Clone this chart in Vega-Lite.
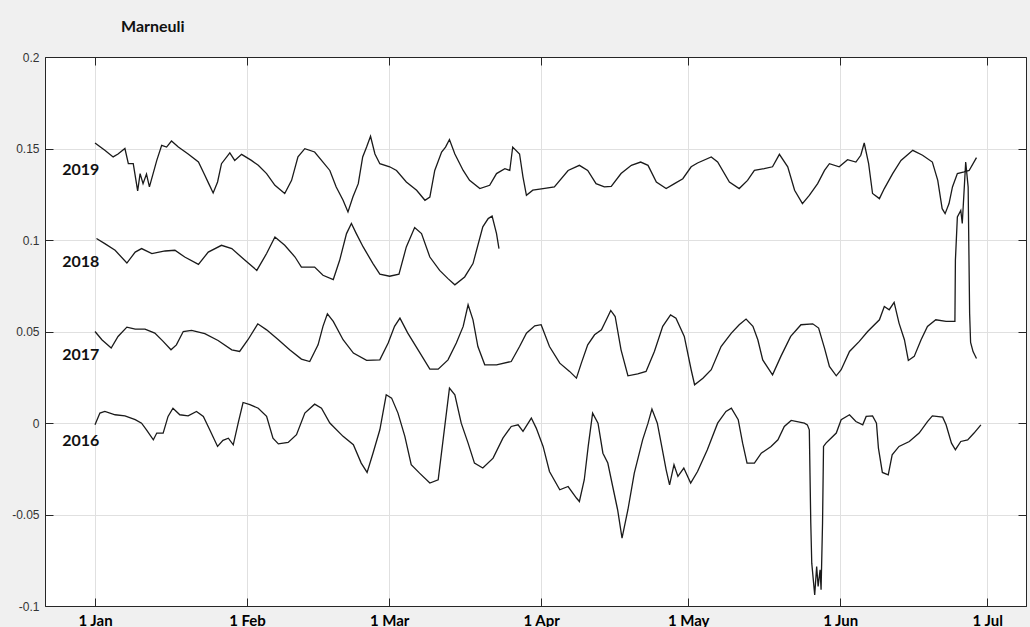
{
  "$schema": "https://vega.github.io/schema/vega-lite/v6.json",
  "width": 981,
  "height": 549,
  "autosize": {"type": "none"},
  "padding": {"left": 45, "top": 57, "right": 4, "bottom": 21},
  "background": "#f0f0f0",
  "title": {
    "text": "Marneuli",
    "anchor": "start",
    "frame": "group",
    "dx": 76,
    "offset": 3,
    "baseline": "alphabetic",
    "font": "Lato",
    "fontSize": 16,
    "fontWeight": "bold",
    "color": "#111111"
  },
  "config": {
    "view": {"fill": "white", "stroke": "#262626", "strokeWidth": 1},
    "axis": {
      "domainColor": "#262626",
      "tickColor": "#262626",
      "gridColor": "#e0e0e0",
      "tickSize": -8,
      "title": null,
      "labelFlush": false,
      "labelOverlap": false
    }
  },
  "datasets": {
    "series": [
      {"year": "2019", "day": 0, "value": 0.153}, {"year": "2019", "day": 2.0, "value": 0.149}, {"year": "2019", "day": 3.7, "value": 0.1454},
      {"year": "2019", "day": 4.7, "value": 0.147}, {"year": "2019", "day": 6.1, "value": 0.150}, {"year": "2019", "day": 6.8, "value": 0.1417},
      {"year": "2019", "day": 7.8, "value": 0.1417}, {"year": "2019", "day": 8.7, "value": 0.1268}, {"year": "2019", "day": 9.2, "value": 0.1363},
      {"year": "2019", "day": 9.8, "value": 0.1308}, {"year": "2019", "day": 10.5, "value": 0.136}, {"year": "2019", "day": 11.1, "value": 0.129},
      {"year": "2019", "day": 12.6, "value": 0.1435}, {"year": "2019", "day": 13.6, "value": 0.1517}, {"year": "2019", "day": 14.6, "value": 0.1508},
      {"year": "2019", "day": 15.6, "value": 0.1541}, {"year": "2019", "day": 17.0, "value": 0.1508}, {"year": "2019", "day": 19.0, "value": 0.147},
      {"year": "2019", "day": 21.1, "value": 0.1426}, {"year": "2019", "day": 22.4, "value": 0.1354}, {"year": "2019", "day": 23.2, "value": 0.1308},
      {"year": "2019", "day": 24.1, "value": 0.1257}, {"year": "2019", "day": 25.0, "value": 0.1317}, {"year": "2019", "day": 25.8, "value": 0.1417},
      {"year": "2019", "day": 27.5, "value": 0.1476}, {"year": "2019", "day": 28.5, "value": 0.1435}, {"year": "2019", "day": 29.9, "value": 0.1468},
      {"year": "2019", "day": 31.9, "value": 0.1435}, {"year": "2019", "day": 33.3, "value": 0.1408}, {"year": "2019", "day": 35.0, "value": 0.1363},
      {"year": "2019", "day": 36.7, "value": 0.1299}, {"year": "2019", "day": 38.7, "value": 0.1254}, {"year": "2019", "day": 40.1, "value": 0.1326},
      {"year": "2019", "day": 41.4, "value": 0.1454}, {"year": "2019", "day": 42.8, "value": 0.1499}, {"year": "2019", "day": 44.8, "value": 0.1481},
      {"year": "2019", "day": 46.5, "value": 0.1426}, {"year": "2019", "day": 47.9, "value": 0.138}, {"year": "2019", "day": 49.2, "value": 0.129},
      {"year": "2019", "day": 50.6, "value": 0.1217}, {"year": "2019", "day": 51.6, "value": 0.1153}, {"year": "2019", "day": 52.6, "value": 0.1235},
      {"year": "2019", "day": 53.7, "value": 0.1308}, {"year": "2019", "day": 54.6, "value": 0.1454}, {"year": "2019", "day": 55.4, "value": 0.1508},
      {"year": "2019", "day": 56.2, "value": 0.1567}, {"year": "2019", "day": 57.1, "value": 0.147}, {"year": "2019", "day": 58.1, "value": 0.1417},
      {"year": "2019", "day": 60.1, "value": 0.140}, {"year": "2019", "day": 61.5, "value": 0.138}, {"year": "2019", "day": 63.5, "value": 0.1317},
      {"year": "2019", "day": 65.6, "value": 0.1272}, {"year": "2019", "day": 67.3, "value": 0.1217}, {"year": "2019", "day": 68.3, "value": 0.1235},
      {"year": "2019", "day": 69.3, "value": 0.138}, {"year": "2019", "day": 70.7, "value": 0.1481}, {"year": "2019", "day": 71.5, "value": 0.1508},
      {"year": "2019", "day": 72.3, "value": 0.1549}, {"year": "2019", "day": 73.4, "value": 0.147}, {"year": "2019", "day": 75.1, "value": 0.138},
      {"year": "2019", "day": 76.4, "value": 0.1326}, {"year": "2019", "day": 78.5, "value": 0.1281}, {"year": "2019", "day": 80.5, "value": 0.1299},
      {"year": "2019", "day": 81.9, "value": 0.1363}, {"year": "2019", "day": 83.6, "value": 0.139}, {"year": "2019", "day": 84.6, "value": 0.138},
      {"year": "2019", "day": 85.2, "value": 0.1508}, {"year": "2019", "day": 86.6, "value": 0.147}, {"year": "2019", "day": 87.3, "value": 0.1344},
      {"year": "2019", "day": 88.0, "value": 0.1244}, {"year": "2019", "day": 89.3, "value": 0.1272}, {"year": "2019", "day": 91.4, "value": 0.1281},
      {"year": "2019", "day": 93.7, "value": 0.129}, {"year": "2019", "day": 96.5, "value": 0.138}, {"year": "2019", "day": 98.8, "value": 0.1408},
      {"year": "2019", "day": 100.5, "value": 0.138}, {"year": "2019", "day": 102.2, "value": 0.1308}, {"year": "2019", "day": 103.9, "value": 0.129},
      {"year": "2019", "day": 105.3, "value": 0.1293}, {"year": "2019", "day": 107.3, "value": 0.1363}, {"year": "2019", "day": 109.4, "value": 0.1408},
      {"year": "2019", "day": 111.3, "value": 0.1426}, {"year": "2019", "day": 112.8, "value": 0.1408}, {"year": "2019", "day": 114.5, "value": 0.1317},
      {"year": "2019", "day": 116.5, "value": 0.1281}, {"year": "2019", "day": 118.2, "value": 0.1308}, {"year": "2019", "day": 119.9, "value": 0.1335},
      {"year": "2019", "day": 121.6, "value": 0.140}, {"year": "2019", "day": 122.9, "value": 0.1421}, {"year": "2019", "day": 125.7, "value": 0.1454},
      {"year": "2019", "day": 127.0, "value": 0.1426}, {"year": "2019", "day": 129.4, "value": 0.1317}, {"year": "2019", "day": 131.4, "value": 0.1281},
      {"year": "2019", "day": 133.1, "value": 0.1326}, {"year": "2019", "day": 134.5, "value": 0.138}, {"year": "2019", "day": 136.5, "value": 0.139},
      {"year": "2019", "day": 138.2, "value": 0.140}, {"year": "2019", "day": 139.6, "value": 0.1468}, {"year": "2019", "day": 141.3, "value": 0.140},
      {"year": "2019", "day": 142.7, "value": 0.1272}, {"year": "2019", "day": 144.3, "value": 0.1199}, {"year": "2019", "day": 145.7, "value": 0.1244},
      {"year": "2019", "day": 147.4, "value": 0.1308}, {"year": "2019", "day": 148.8, "value": 0.138}, {"year": "2019", "day": 149.8, "value": 0.1417},
      {"year": "2019", "day": 151.8, "value": 0.140}, {"year": "2019", "day": 153.5, "value": 0.1439}, {"year": "2019", "day": 155.2, "value": 0.1426},
      {"year": "2019", "day": 156.2, "value": 0.1463}, {"year": "2019", "day": 156.9, "value": 0.153}, {"year": "2019", "day": 157.8, "value": 0.1417},
      {"year": "2019", "day": 158.6, "value": 0.1254}, {"year": "2019", "day": 160.0, "value": 0.1226}, {"year": "2019", "day": 161.0, "value": 0.1281},
      {"year": "2019", "day": 162.7, "value": 0.1363}, {"year": "2019", "day": 164.4, "value": 0.1435}, {"year": "2019", "day": 166.8, "value": 0.149},
      {"year": "2019", "day": 168.8, "value": 0.1463}, {"year": "2019", "day": 170.8, "value": 0.1426}, {"year": "2019", "day": 171.9, "value": 0.1326},
      {"year": "2019", "day": 172.8, "value": 0.1171}, {"year": "2019", "day": 173.4, "value": 0.1144}, {"year": "2019", "day": 174.2, "value": 0.1199},
      {"year": "2019", "day": 174.9, "value": 0.129}, {"year": "2019", "day": 175.9, "value": 0.1363}, {"year": "2019", "day": 177.3, "value": 0.1372},
      {"year": "2019", "day": 178.3, "value": 0.138}, {"year": "2019", "day": 179.8, "value": 0.145},

      {"year": "2018", "day": 0.3, "value": 0.1008}, {"year": "2018", "day": 2.0, "value": 0.098}, {"year": "2018", "day": 4.1, "value": 0.0944},
      {"year": "2018", "day": 6.5, "value": 0.0874}, {"year": "2018", "day": 8.2, "value": 0.0934}, {"year": "2018", "day": 9.5, "value": 0.0953},
      {"year": "2018", "day": 11.6, "value": 0.0926}, {"year": "2018", "day": 14.3, "value": 0.094}, {"year": "2018", "day": 16.3, "value": 0.0944},
      {"year": "2018", "day": 18.3, "value": 0.0907}, {"year": "2018", "day": 21.1, "value": 0.0867}, {"year": "2018", "day": 23.1, "value": 0.0934},
      {"year": "2018", "day": 25.8, "value": 0.0971}, {"year": "2018", "day": 27.9, "value": 0.0953}, {"year": "2018", "day": 30.6, "value": 0.0889},
      {"year": "2018", "day": 33.0, "value": 0.0834}, {"year": "2018", "day": 35.0, "value": 0.0926}, {"year": "2018", "day": 36.7, "value": 0.1016},
      {"year": "2018", "day": 38.7, "value": 0.0971}, {"year": "2018", "day": 40.8, "value": 0.0907}, {"year": "2018", "day": 42.1, "value": 0.0852},
      {"year": "2018", "day": 44.8, "value": 0.0852}, {"year": "2018", "day": 46.5, "value": 0.0807}, {"year": "2018", "day": 48.6, "value": 0.0784},
      {"year": "2018", "day": 49.9, "value": 0.0889}, {"year": "2018", "day": 51.3, "value": 0.1035}, {"year": "2018", "day": 52.3, "value": 0.109},
      {"year": "2018", "day": 53.3, "value": 0.1035}, {"year": "2018", "day": 54.7, "value": 0.0962}, {"year": "2018", "day": 56.7, "value": 0.0871},
      {"year": "2018", "day": 58.1, "value": 0.0813}, {"year": "2018", "day": 60.1, "value": 0.0802}, {"year": "2018", "day": 62.0, "value": 0.0813},
      {"year": "2018", "day": 63.5, "value": 0.0962}, {"year": "2018", "day": 65.2, "value": 0.1068}, {"year": "2018", "day": 66.6, "value": 0.1035},
      {"year": "2018", "day": 68.3, "value": 0.0907}, {"year": "2018", "day": 70.3, "value": 0.0834}, {"year": "2018", "day": 72.0, "value": 0.0789},
      {"year": "2018", "day": 73.4, "value": 0.0755}, {"year": "2018", "day": 75.4, "value": 0.0798}, {"year": "2018", "day": 77.1, "value": 0.0871},
      {"year": "2018", "day": 79.1, "value": 0.1072}, {"year": "2018", "day": 80.2, "value": 0.1117}, {"year": "2018", "day": 81.0, "value": 0.1131},
      {"year": "2018", "day": 81.9, "value": 0.1035}, {"year": "2018", "day": 82.4, "value": 0.0953},

      {"year": "2017", "day": 0, "value": 0.05}, {"year": "2017", "day": 1.4, "value": 0.0455}, {"year": "2017", "day": 3.3, "value": 0.041},
      {"year": "2017", "day": 4.7, "value": 0.0473}, {"year": "2017", "day": 6.5, "value": 0.0524}, {"year": "2017", "day": 8.2, "value": 0.0513},
      {"year": "2017", "day": 10.2, "value": 0.0513}, {"year": "2017", "day": 12.2, "value": 0.0491}, {"year": "2017", "day": 13.9, "value": 0.0446},
      {"year": "2017", "day": 15.5, "value": 0.04}, {"year": "2017", "day": 16.6, "value": 0.0427}, {"year": "2017", "day": 18.0, "value": 0.05},
      {"year": "2017", "day": 19.7, "value": 0.0506}, {"year": "2017", "day": 22.4, "value": 0.0488}, {"year": "2017", "day": 25.1, "value": 0.0451},
      {"year": "2017", "day": 27.9, "value": 0.04}, {"year": "2017", "day": 29.5, "value": 0.0391}, {"year": "2017", "day": 31.2, "value": 0.0455},
      {"year": "2017", "day": 33.2, "value": 0.0542}, {"year": "2017", "day": 35.0, "value": 0.0509}, {"year": "2017", "day": 37.4, "value": 0.0455},
      {"year": "2017", "day": 39.7, "value": 0.04}, {"year": "2017", "day": 42.1, "value": 0.0349}, {"year": "2017", "day": 43.8, "value": 0.0336},
      {"year": "2017", "day": 45.5, "value": 0.0427}, {"year": "2017", "day": 46.5, "value": 0.0528}, {"year": "2017", "day": 47.4, "value": 0.0597},
      {"year": "2017", "day": 48.6, "value": 0.0555}, {"year": "2017", "day": 50.6, "value": 0.0455}, {"year": "2017", "day": 52.7, "value": 0.0382},
      {"year": "2017", "day": 55.4, "value": 0.0342}, {"year": "2017", "day": 58.1, "value": 0.0345}, {"year": "2017", "day": 59.8, "value": 0.0437},
      {"year": "2017", "day": 61.1, "value": 0.0528}, {"year": "2017", "day": 62.2, "value": 0.0573}, {"year": "2017", "day": 63.8, "value": 0.0491},
      {"year": "2017", "day": 65.9, "value": 0.04}, {"year": "2017", "day": 68.3, "value": 0.0294}, {"year": "2017", "day": 70.0, "value": 0.0294},
      {"year": "2017", "day": 72.0, "value": 0.0345}, {"year": "2017", "day": 73.7, "value": 0.0437}, {"year": "2017", "day": 75.1, "value": 0.0528},
      {"year": "2017", "day": 76.1, "value": 0.0646}, {"year": "2017", "day": 77.1, "value": 0.0564}, {"year": "2017", "day": 78.1, "value": 0.0418},
      {"year": "2017", "day": 79.5, "value": 0.0318}, {"year": "2017", "day": 81.9, "value": 0.0318}, {"year": "2017", "day": 84.9, "value": 0.0336},
      {"year": "2017", "day": 86.6, "value": 0.0418}, {"year": "2017", "day": 88.0, "value": 0.0491}, {"year": "2017", "day": 89.7, "value": 0.0531},
      {"year": "2017", "day": 91.0, "value": 0.0537}, {"year": "2017", "day": 92.7, "value": 0.0418}, {"year": "2017", "day": 94.8, "value": 0.0327},
      {"year": "2017", "day": 96.8, "value": 0.0282}, {"year": "2017", "day": 98.2, "value": 0.0245}, {"year": "2017", "day": 99.2, "value": 0.0327},
      {"year": "2017", "day": 100.5, "value": 0.0427}, {"year": "2017", "day": 101.9, "value": 0.0482}, {"year": "2017", "day": 103.3, "value": 0.0509},
      {"year": "2017", "day": 104.3, "value": 0.0564}, {"year": "2017", "day": 105.2, "value": 0.0615}, {"year": "2017", "day": 106.1, "value": 0.0582},
      {"year": "2017", "day": 107.3, "value": 0.04}, {"year": "2017", "day": 108.7, "value": 0.0258}, {"year": "2017", "day": 110.7, "value": 0.0269},
      {"year": "2017", "day": 112.4, "value": 0.0282}, {"year": "2017", "day": 114.1, "value": 0.0391}, {"year": "2017", "day": 115.8, "value": 0.0528},
      {"year": "2017", "day": 117.4, "value": 0.0591}, {"year": "2017", "day": 118.5, "value": 0.0573}, {"year": "2017", "day": 120.2, "value": 0.0473},
      {"year": "2017", "day": 121.6, "value": 0.0291}, {"year": "2017", "day": 122.3, "value": 0.0209}, {"year": "2017", "day": 124.0, "value": 0.0245},
      {"year": "2017", "day": 125.7, "value": 0.0291}, {"year": "2017", "day": 127.7, "value": 0.0418}, {"year": "2017", "day": 129.8, "value": 0.0491},
      {"year": "2017", "day": 131.4, "value": 0.0537}, {"year": "2017", "day": 132.8, "value": 0.0568}, {"year": "2017", "day": 134.2, "value": 0.0528},
      {"year": "2017", "day": 135.2, "value": 0.0455}, {"year": "2017", "day": 136.2, "value": 0.0345}, {"year": "2017", "day": 138.2, "value": 0.0263},
      {"year": "2017", "day": 139.9, "value": 0.0364}, {"year": "2017", "day": 141.9, "value": 0.0473}, {"year": "2017", "day": 144.0, "value": 0.0537},
      {"year": "2017", "day": 146.4, "value": 0.0542}, {"year": "2017", "day": 147.6, "value": 0.0519}, {"year": "2017", "day": 148.8, "value": 0.0409},
      {"year": "2017", "day": 149.8, "value": 0.0309}, {"year": "2017", "day": 151.2, "value": 0.0258}, {"year": "2017", "day": 152.2, "value": 0.0291},
      {"year": "2017", "day": 153.9, "value": 0.0391}, {"year": "2017", "day": 155.9, "value": 0.0446}, {"year": "2017", "day": 157.6, "value": 0.05},
      {"year": "2017", "day": 160.0, "value": 0.0564}, {"year": "2017", "day": 161.0, "value": 0.0637}, {"year": "2017", "day": 162.0, "value": 0.0619},
      {"year": "2017", "day": 163.0, "value": 0.0659}, {"year": "2017", "day": 164.0, "value": 0.0546}, {"year": "2017", "day": 165.1, "value": 0.0455},
      {"year": "2017", "day": 165.9, "value": 0.0342}, {"year": "2017", "day": 167.1, "value": 0.0364}, {"year": "2017", "day": 168.5, "value": 0.0455},
      {"year": "2017", "day": 169.8, "value": 0.0528}, {"year": "2017", "day": 171.5, "value": 0.0564}, {"year": "2017", "day": 173.6, "value": 0.0555},
      {"year": "2017", "day": 175.4, "value": 0.0555}, {"year": "2017", "day": 175.5, "value": 0.0889}, {"year": "2017", "day": 175.9, "value": 0.1126},
      {"year": "2017", "day": 176.6, "value": 0.1162}, {"year": "2017", "day": 176.9, "value": 0.109}, {"year": "2017", "day": 177.6, "value": 0.1426},
      {"year": "2017", "day": 178.1, "value": 0.129}, {"year": "2017", "day": 178.4, "value": 0.06}, {"year": "2017", "day": 178.6, "value": 0.044},
      {"year": "2017", "day": 179.1, "value": 0.039}, {"year": "2017", "day": 179.8, "value": 0.0352},

      {"year": "2016", "day": 0, "value": -0.001}, {"year": "2016", "day": 1.0, "value": 0.0054}, {"year": "2016", "day": 2.0, "value": 0.0063},
      {"year": "2016", "day": 4.1, "value": 0.0045}, {"year": "2016", "day": 6.1, "value": 0.0039}, {"year": "2016", "day": 8.2, "value": 0.0018},
      {"year": "2016", "day": 9.5, "value": -0.0001}, {"year": "2016", "day": 10.5, "value": -0.0037}, {"year": "2016", "day": 11.9, "value": -0.0092},
      {"year": "2016", "day": 12.6, "value": -0.0055}, {"year": "2016", "day": 13.9, "value": -0.0055}, {"year": "2016", "day": 14.9, "value": 0.0036},
      {"year": "2016", "day": 15.9, "value": 0.0081}, {"year": "2016", "day": 17.3, "value": 0.0045}, {"year": "2016", "day": 19.0, "value": 0.0039},
      {"year": "2016", "day": 20.7, "value": 0.0063}, {"year": "2016", "day": 22.1, "value": 0.0036}, {"year": "2016", "day": 23.4, "value": -0.0037},
      {"year": "2016", "day": 25.0, "value": -0.0128}, {"year": "2016", "day": 26.1, "value": -0.0095}, {"year": "2016", "day": 27.2, "value": -0.0083},
      {"year": "2016", "day": 28.2, "value": -0.0119}, {"year": "2016", "day": 29.2, "value": -0.0001}, {"year": "2016", "day": 30.2, "value": 0.0112},
      {"year": "2016", "day": 31.6, "value": 0.01}, {"year": "2016", "day": 33.3, "value": 0.0081}, {"year": "2016", "day": 35.0, "value": 0.0036},
      {"year": "2016", "day": 36.3, "value": -0.0083}, {"year": "2016", "day": 37.4, "value": -0.0114}, {"year": "2016", "day": 39.4, "value": -0.0106},
      {"year": "2016", "day": 41.1, "value": -0.0064}, {"year": "2016", "day": 42.8, "value": 0.0054}, {"year": "2016", "day": 44.8, "value": 0.0103},
      {"year": "2016", "day": 46.2, "value": 0.0081}, {"year": "2016", "day": 47.9, "value": 0}, {"year": "2016", "day": 50.6, "value": -0.0073},
      {"year": "2016", "day": 52.7, "value": -0.0119}, {"year": "2016", "day": 54.3, "value": -0.0219}, {"year": "2016", "day": 55.5, "value": -0.027},
      {"year": "2016", "day": 56.7, "value": -0.0165}, {"year": "2016", "day": 58.1, "value": -0.0037}, {"year": "2016", "day": 59.4, "value": 0.0154},
      {"year": "2016", "day": 60.5, "value": 0.0136}, {"year": "2016", "day": 61.8, "value": 0.0054}, {"year": "2016", "day": 63.2, "value": -0.0073},
      {"year": "2016", "day": 64.5, "value": -0.0228}, {"year": "2016", "day": 66.2, "value": -0.0274}, {"year": "2016", "day": 68.3, "value": -0.0328},
      {"year": "2016", "day": 70.0, "value": -0.031}, {"year": "2016", "day": 71.0, "value": -0.0092}, {"year": "2016", "day": 72.3, "value": 0.0191},
      {"year": "2016", "day": 73.4, "value": 0.0154}, {"year": "2016", "day": 74.7, "value": -0.0001}, {"year": "2016", "day": 76.1, "value": -0.011},
      {"year": "2016", "day": 77.4, "value": -0.0219}, {"year": "2016", "day": 79.1, "value": -0.0246}, {"year": "2016", "day": 81.2, "value": -0.0192},
      {"year": "2016", "day": 83.2, "value": -0.0083}, {"year": "2016", "day": 84.9, "value": -0.0019}, {"year": "2016", "day": 86.3, "value": -0.001},
      {"year": "2016", "day": 87.3, "value": -0.0046}, {"year": "2016", "day": 89.0, "value": 0.0027}, {"year": "2016", "day": 90.0, "value": -0.0028},
      {"year": "2016", "day": 91.4, "value": -0.0128}, {"year": "2016", "day": 92.7, "value": -0.0265}, {"year": "2016", "day": 94.8, "value": -0.0365},
      {"year": "2016", "day": 96.5, "value": -0.0347}, {"year": "2016", "day": 98.2, "value": -0.041}, {"year": "2016", "day": 98.8, "value": -0.0429},
      {"year": "2016", "day": 99.8, "value": -0.031}, {"year": "2016", "day": 100.6, "value": -0.0128}, {"year": "2016", "day": 101.5, "value": 0.0054},
      {"year": "2016", "day": 102.6, "value": -0.0001}, {"year": "2016", "day": 103.6, "value": -0.0165}, {"year": "2016", "day": 104.6, "value": -0.0219},
      {"year": "2016", "day": 105.6, "value": -0.0347}, {"year": "2016", "day": 106.6, "value": -0.0474}, {"year": "2016", "day": 107.5, "value": -0.0629},
      {"year": "2016", "day": 108.7, "value": -0.0474}, {"year": "2016", "day": 110.0, "value": -0.0274}, {"year": "2016", "day": 111.7, "value": -0.0092},
      {"year": "2016", "day": 112.8, "value": -0.0001}, {"year": "2016", "day": 113.6, "value": 0.0076}, {"year": "2016", "day": 114.7, "value": -0.0001},
      {"year": "2016", "day": 115.6, "value": -0.0128}, {"year": "2016", "day": 116.5, "value": -0.0256}, {"year": "2016", "day": 117.2, "value": -0.0338},
      {"year": "2016", "day": 118.1, "value": -0.0228}, {"year": "2016", "day": 118.9, "value": -0.0292}, {"year": "2016", "day": 120.1, "value": -0.0246},
      {"year": "2016", "day": 121.5, "value": -0.0328}, {"year": "2016", "day": 122.9, "value": -0.0265}, {"year": "2016", "day": 124.9, "value": -0.0146},
      {"year": "2016", "day": 127.0, "value": -0.0001}, {"year": "2016", "day": 128.7, "value": 0.0063}, {"year": "2016", "day": 129.8, "value": 0.0081},
      {"year": "2016", "day": 131.2, "value": 0.0018}, {"year": "2016", "day": 132.1, "value": -0.011}, {"year": "2016", "day": 133.0, "value": -0.0219},
      {"year": "2016", "day": 134.5, "value": -0.0219}, {"year": "2016", "day": 135.9, "value": -0.0165}, {"year": "2016", "day": 137.9, "value": -0.0128},
      {"year": "2016", "day": 139.3, "value": -0.0092}, {"year": "2016", "day": 140.6, "value": -0.0019}, {"year": "2016", "day": 142.0, "value": 0.0014},
      {"year": "2016", "day": 144.7, "value": -0.0001}, {"year": "2016", "day": 145.3, "value": -0.001}, {"year": "2016", "day": 145.7, "value": -0.0037},
      {"year": "2016", "day": 146.0, "value": -0.0547}, {"year": "2016", "day": 146.2, "value": -0.0766}, {"year": "2016", "day": 146.8, "value": -0.0939},
      {"year": "2016", "day": 147.2, "value": -0.0784}, {"year": "2016", "day": 147.5, "value": -0.0893}, {"year": "2016", "day": 147.9, "value": -0.0802},
      {"year": "2016", "day": 148.1, "value": -0.0911}, {"year": "2016", "day": 148.4, "value": -0.0547}, {"year": "2016", "day": 148.6, "value": -0.0128},
      {"year": "2016", "day": 149.1, "value": -0.011}, {"year": "2016", "day": 149.8, "value": -0.0092}, {"year": "2016", "day": 151.2, "value": -0.0055},
      {"year": "2016", "day": 152.2, "value": 0.0018}, {"year": "2016", "day": 153.9, "value": 0.0045}, {"year": "2016", "day": 155.2, "value": 0.0008},
      {"year": "2016", "day": 156.6, "value": -0.001}, {"year": "2016", "day": 157.3, "value": 0.0036}, {"year": "2016", "day": 158.6, "value": 0.0039},
      {"year": "2016", "day": 159.4, "value": -0.0001}, {"year": "2016", "day": 159.8, "value": -0.0137}, {"year": "2016", "day": 160.6, "value": -0.027},
      {"year": "2016", "day": 161.8, "value": -0.0283}, {"year": "2016", "day": 162.6, "value": -0.0174}, {"year": "2016", "day": 164.0, "value": -0.0128},
      {"year": "2016", "day": 166.1, "value": -0.0101}, {"year": "2016", "day": 168.1, "value": -0.0055}, {"year": "2016", "day": 169.8, "value": 0.0008},
      {"year": "2016", "day": 170.8, "value": 0.0039}, {"year": "2016", "day": 172.9, "value": 0.0032}, {"year": "2016", "day": 173.6, "value": -0.001},
      {"year": "2016", "day": 174.7, "value": -0.011}, {"year": "2016", "day": 175.5, "value": -0.0146}, {"year": "2016", "day": 176.6, "value": -0.0101},
      {"year": "2016", "day": 178.0, "value": -0.0092}, {"year": "2016", "day": 179.3, "value": -0.0055}, {"year": "2016", "day": 180.7, "value": -0.001}
    ],
    "labels": [
      {"year": "2019", "day": -6.7, "value": 0.1384},
      {"year": "2018", "day": -6.7, "value": 0.088},
      {"year": "2017", "day": -6.7, "value": 0.037},
      {"year": "2016", "day": -6.7, "value": -0.0098}
    ]
  },
  "layer": [
    {
      "data": {"name": "series"},
      "mark": {"type": "line", "color": "#1a1a1a", "strokeWidth": 1.3},
      "encoding": {
        "x": {
          "field": "day",
          "type": "quantitative",
          "scale": {"domain": [-10.2, 189.9], "nice": false, "zero": false},
          "axis": {
            "orient": "bottom",
            "values": [0, 31, 60, 91, 121, 152, 182],
            "labelExpr": "datum.value == 0 ? '1 Jan' : datum.value == 31 ? '1 Feb' : datum.value == 60 ? '1 Mar' : datum.value == 91 ? '1 Apr' : datum.value == 121 ? '1 May' : datum.value == 152 ? '1 Jun' : '1 Jul'",
            "grid": true,
            "labelFont": "Lato",
            "labelFontSize": 15,
            "labelFontWeight": "bold",
            "labelColor": "#000000",
            "labelBaseline": "top",
            "labelPadding": 15
          }
        },
        "y": {
          "field": "value",
          "type": "quantitative",
          "scale": {"domain": [-0.1, 0.2], "nice": false, "zero": false},
          "axis": {
            "orient": "left",
            "values": [-0.1, -0.05, 0, 0.05, 0.1, 0.15, 0.2],
            "labelExpr": "'' + datum.value",
            "grid": true,
            "labelFont": "Liberation Sans",
            "labelFontSize": 12,
            "labelColor": "#333333",
            "labelPadding": 14
          }
        },
        "detail": {"field": "year", "type": "nominal"}
      }
    },
    {
      "data": {"name": "labels"},
      "mark": {
        "type": "text",
        "align": "left",
        "baseline": "middle",
        "font": "Lato",
        "fontSize": 16,
        "fontWeight": "bold",
        "color": "#111111"
      },
      "encoding": {
        "x": {
          "field": "day",
          "type": "quantitative",
          "axis": {
            "orient": "top",
            "values": [0, 31, 60, 91, 121, 152, 182],
            "labels": false,
            "grid": false
          }
        },
        "y": {
          "field": "value",
          "type": "quantitative",
          "axis": {
            "orient": "right",
            "values": [-0.1, -0.05, 0, 0.05, 0.1, 0.15, 0.2],
            "labels": false,
            "grid": false
          }
        },
        "text": {"field": "year", "type": "nominal"}
      }
    }
  ],
  "resolve": {"axis": {"x": "independent", "y": "independent"}}
}
